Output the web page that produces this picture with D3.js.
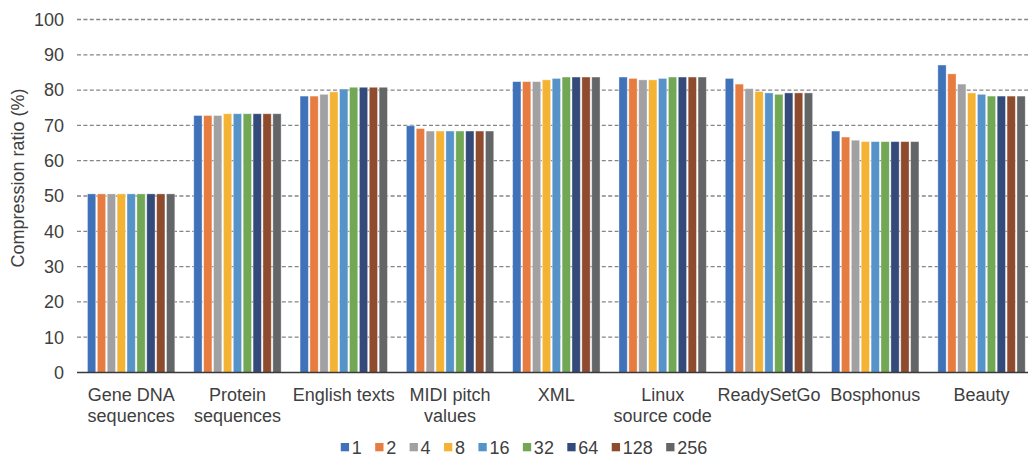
<!DOCTYPE html>
<html>
<head>
<meta charset="utf-8">
<script src="https://cdn.jsdelivr.net/npm/d3@7"></script>
<style>
  html, body { margin: 0; padding: 0; background: #fff; }
  svg { display: block; font-family: "Liberation Sans", Arial, sans-serif; }
</style>
</head>
<body>
<svg id="chart" width="1028" height="457"></svg>
<script>
// ---- data ----
const categories = [
  ["Gene DNA", "sequences"],
  ["Protein", "sequences"],
  ["English texts"],
  ["MIDI pitch", "values"],
  ["XML"],
  ["Linux", "source code"],
  ["ReadySetGo"],
  ["Bosphonus"],
  ["Beauty"]
];
const seriesNames = ["1", "2", "4", "8", "16", "32", "64", "128", "256"];
const s1   = [50.6, 72.8, 78.3, 69.9, 82.4, 83.7, 83.3, 68.4, 87.1];
const s2   = [50.6, 72.8, 78.3, 69.1, 82.4, 83.3, 81.7, 66.7, 84.6];
const s4   = [50.6, 72.8, 78.8, 68.4, 82.4, 82.9, 80.4, 65.8, 81.7];
const s8   = [50.6, 73.3, 79.5, 68.4, 82.9, 82.9, 79.6, 65.4, 79.2];
const s16  = [50.6, 73.3, 80.3, 68.4, 83.3, 83.3, 79.2, 65.4, 78.8];
const s32  = [50.6, 73.3, 80.8, 68.4, 83.7, 83.7, 78.8, 65.4, 78.3];
const s64  = [50.6, 73.3, 80.8, 68.4, 83.7, 83.7, 79.2, 65.4, 78.3];
const s128 = [50.6, 73.3, 80.8, 68.4, 83.7, 83.7, 79.2, 65.4, 78.3];
const s256 = [50.6, 73.3, 80.8, 68.4, 83.7, 83.7, 79.2, 65.4, 78.3];
const seriesValues = [s1, s2, s4, s8, s16, s32, s64, s128, s256];
const colors = ["#4072BA", "#E77C40", "#A1A1A3", "#F5B335", "#5593C8", "#71A755", "#344A7A", "#8F4B2D", "#646567"];
const yTicks = [0, 10, 20, 30, 40, 50, 60, 70, 80, 90, 100];
const yTitle = "Compression ratio (%)";

// ---- layout ----
const svg = d3.select("#chart");
const left = 78, bandW = 106.3, y0 = 372.5, yTop = 19.5;
const textColor = "#404040";
const fs = 18;

const x0 = d3.scaleBand().domain(d3.range(categories.length))
  .range([left, left + bandW * categories.length]).padding(0);
const x1 = d3.scaleBand().domain(d3.range(seriesNames.length))
  .range([bandW * 0.0815, bandW * 0.9185]).padding(0);
const y = d3.scaleLinear().domain([0, 100]).range([y0, yTop]);

// gridlines
svg.append("g").selectAll("line").data(yTicks.filter(d => d > 0)).join("line")
  .attr("x1", left - 1).attr("x2", 1028)
  .attr("y1", d => y(d)).attr("y2", d => y(d))
  .attr("stroke", "#858585").attr("stroke-width", 1.3)
  .attr("stroke-dasharray", "4,2.4");

// y tick labels
svg.append("g").selectAll("text").data(yTicks).join("text")
  .attr("x", left - 14).attr("y", d => y(d))
  .attr("dy", "0.35em").attr("text-anchor", "end")
  .attr("font-size", fs).attr("fill", textColor)
  .text(d => d);

// y title
svg.append("text")
  .attr("transform", `translate(${24},${(y(0) + y(100)) / 2 - 18}) rotate(-90)`)
  .attr("text-anchor", "middle").attr("font-size", fs).attr("fill", textColor)
  .text(yTitle);

// bars
const bw = x1.bandwidth();
const groups = svg.append("g").selectAll("g").data(categories).join("g")
  .attr("transform", (d, i) => `translate(${x0(i)},0)`);
groups.selectAll("rect")
  .data((d, ci) => seriesValues.map((vals, si) => ({ si, v: vals[ci] })))
  .join("rect")
  .attr("x", d => x1(d.si) + 0.8)
  .attr("width", bw - 1.6)
  .attr("y", d => y(d.v))
  .attr("height", d => y0 - y(d.v))
  .attr("fill", d => colors[d.si])
  .attr("stroke", "#ffffff").attr("stroke-opacity", 0.45).attr("stroke-width", 0.8);

// x axis line
svg.append("line")
  .attr("x1", left - 1).attr("x2", 1028).attr("y1", y0).attr("y2", y0)
  .attr("stroke", "#3a3a3a").attr("stroke-width", 1.6);

// category labels
const lab = svg.append("g").selectAll("text").data(categories).join("text")
  .attr("x", (d, i) => x0(i) + bandW / 2)
  .attr("y", 401)
  .attr("text-anchor", "middle").attr("font-size", fs).attr("fill", textColor);
lab.selectAll("tspan").data(d => d).join("tspan")
  .attr("x", function () { return d3.select(this.parentNode).attr("x"); })
  .attr("dy", (d, i) => i === 0 ? 0 : 21)
  .text(d => d);

// legend
const legend = svg.append("g");
let cx = 0;
seriesNames.forEach((name, i) => {
  const g = legend.append("g").attr("transform", `translate(${cx},0)`);
  g.append("rect").attr("x", 0).attr("y", 443).attr("width", 8.3).attr("height", 8.3)
    .attr("fill", colors[i]);
  const t = g.append("text").attr("x", 11).attr("y", 454)
    .attr("font-size", fs).attr("fill", textColor).text(name);
  cx += 11 + t.node().getComputedTextLength() + 13.4;
});
const totalW = cx - 13.4;
legend.attr("transform", `translate(${524 - totalW / 2},0)`);
</script>
</body>
</html>
